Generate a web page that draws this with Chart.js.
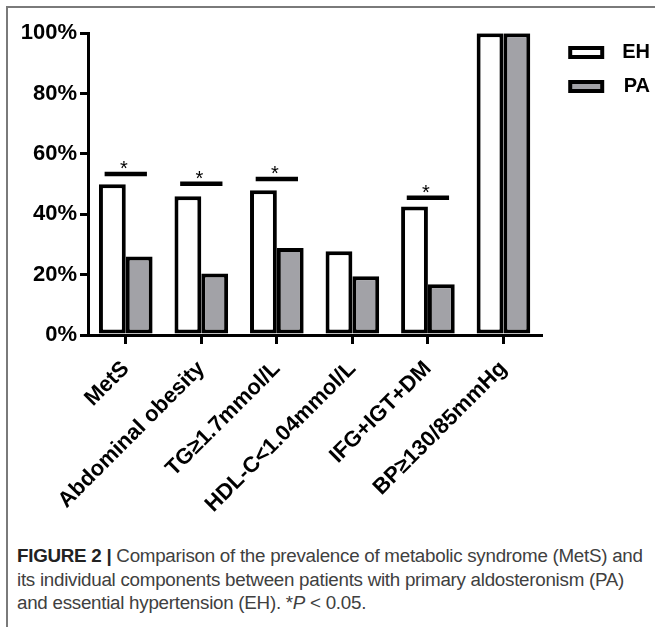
<!DOCTYPE html>
<html>
<head>
<meta charset="utf-8">
<script src="https://cdn.jsdelivr.net/npm/chart.js@4.4.1/dist/chart.umd.min.js"></script>
<style>
  html, body { margin: 0; padding: 0; background: #fff; }
  body { width: 655px; height: 627px; position: relative; overflow: hidden; }
  #frame { position: absolute; left: 6px; top: 6px; right: -10px; bottom: -10px;
           border-top: 2px solid #7a7a7a; border-left: 2px solid #7a7a7a; }
  #wrap { position: absolute; left: 0; top: 0; width: 655px; height: 530px; }
  #cap { position: absolute; left: 17px; top: 544px; font-family: "Liberation Sans", Arial, sans-serif;
         font-size: 18.8px; line-height: 23.5px; color: #404040; white-space: nowrap; letter-spacing: -0.27px; }
  #cap b { color: #222; }
</style>
</head>
<body>
<div id="frame"></div>
<div id="wrap"><canvas id="chart"></canvas></div>
<div id="cap"><b>FIGURE 2 |</b> Comparison of the prevalence of metabolic syndrome (MetS) and<br>its individual components between patients with primary aldosteronism (PA)<br>and essential hypertension (EH). *<i>P</i> &lt; 0.05.</div>
<script>
const categories = ['MetS', 'Abdominal obesity', 'TG\u22651.7mmol/L', 'HDL-C<1.04mmol/L', 'IFG+IGT+DM', 'BP\u2265130/85mmHg'];
const ehValues = [50, 46, 48, 27.8, 42.6, 100];
const paValues = [26, 20.4, 28.8, 19.5, 16.8, 100];
// height of the significance bar (same % scale), null = no mark
const sigLevels = [53.4, 50.1, 51.7, null, 45.5, null];
const yTicks = [0, 20, 40, 60, 80, 100];

const FONT = 'Liberation Sans, Arial, sans-serif';

// draws the "*" bars above significant pairs
const sigPlugin = {
    id: 'sigMarks',
    afterDatasetsDraw(chart) {
        const x = chart.scales.x, y = chart.scales.y;
        const ctx = chart.ctx;
        const half = x.width / categories.length * 0.28;
        ctx.save();
        sigLevels.forEach((lvl, i) => {
            if (lvl == null) return;
            const cx = x.getPixelForValue(i);
            const cy = y.getPixelForValue(lvl);
            ctx.strokeStyle = '#000';
            ctx.lineWidth = 4.5;
            ctx.beginPath();
            ctx.moveTo(cx - half, cy);
            ctx.lineTo(cx + half, cy);
            ctx.stroke();
            ctx.fillStyle = '#000';
            ctx.font = '20px ' + FONT;
            ctx.textAlign = 'center';
            ctx.textBaseline = 'alphabetic';
            ctx.fillText('*', cx - 2, cy + 1);
        });
        ctx.restore();
    }
};

new Chart(document.getElementById('chart'), {
    type: 'bar',
    data: {
        labels: categories,
        datasets: [
            { label: 'EH', data: ehValues, backgroundColor: '#ffffff', borderColor: '#000', borderWidth: 4, borderSkipped: false },
            { label: 'PA', data: paValues, backgroundColor: '#a2a2a7', borderColor: '#000', borderWidth: 4, borderSkipped: false }
        ]
    },
    options: {
        responsive: true,
        maintainAspectRatio: false,
        animation: false,
        layout: { padding: { top: 28.5, left: 0, right: 5, bottom: 0 } },
        datasets: { bar: { barPercentage: 1.0, categoryPercentage: 0.71 } },
        plugins: {
            tooltip: { enabled: false },
            legend: {
                position: 'right',
                align: 'start',
                labels: {
                    boxWidth: 32,
                    boxHeight: 9,
                    padding: 14,
                    textAlign: 'right',
                    color: '#000',
                    font: { family: FONT, size: 20, weight: 'bold' },
                    generateLabels(chart) {
                        return chart.data.datasets.map((d, i) => ({
                            text: d.label, fillStyle: d.backgroundColor, strokeStyle: '#000',
                            lineWidth: 4, datasetIndex: i, hidden: false
                        }));
                    }
                }
            }
        },
        scales: {
            x: {
                offset: true,
                grid: { display: true, drawOnChartArea: false, offset: false, tickLength: 9, lineWidth: 3, color: '#000' },
                border: { display: true, width: 3, color: '#000' },
                ticks: {
                    minRotation: 45, maxRotation: 45, padding: 12, color: '#000',
                    font: { family: FONT, size: 22, weight: 'bold' }
                },
                afterFit(s) { s.height = 195; }
            },
            y: {
                min: 0, max: 100,
                grid: { display: true, drawOnChartArea: false, tickLength: 8, lineWidth: 3, color: '#000' },
                border: { display: true, width: 3, color: '#000' },
                afterBuildTicks(s) { s.ticks = yTicks.map(v => ({ value: v })); },
                ticks: {
                    padding: 3, color: '#000',
                    font: { family: FONT, size: 22, weight: 'bold' },
                    callback: v => v + '%'
                },
                // fixed axis width, and push the plot top a little below the legend's top
                afterFit(s) { s.width = 88; s.paddingTop = 33.3; }
            },
            // spacer between plot and legend
            gap: {
                position: 'right', display: true,
                grid: { display: false }, border: { display: false },
                ticks: { display: false },
                afterFit(s) { s.width = 15; }
            }
        }
    },
    plugins: [sigPlugin]
});
</script>
</body>
</html>
